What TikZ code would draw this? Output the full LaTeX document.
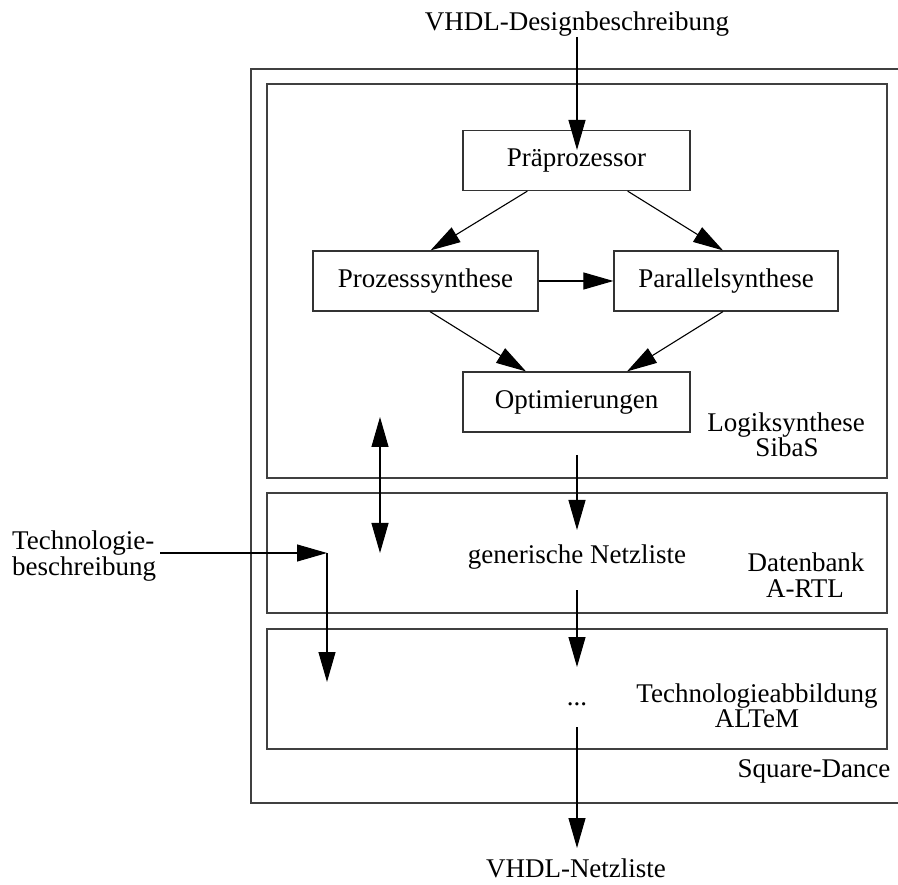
\documentclass[tikz,border=0pt]{standalone}
\usepackage{fontspec}
\setmainfont{Liberation Serif}
\usetikzlibrary{arrows.meta}
\begin{document}
\begin{tikzpicture}[x=1pt,y=-1pt,
  every node/.style={font=\fontsize{27pt}{25pt}\selectfont, inner sep=0pt},
  outline/.style={draw=black!75, line width=1.3pt},
  procbox/.style={draw=black!80, line width=1.2pt, minimum width=226pt, minimum height=60pt},
  flow/.style={draw=black, line width=1.1pt, -{Triangle[length=30pt,width=17pt]}},
  biflow/.style={draw=black, line width=1.1pt, {Triangle[length=30pt,width=17pt]}-{Triangle[length=30pt,width=17pt]}},
  txt/.style={anchor=base}
]
\useasboundingbox (0,0) rectangle (898,885);

% outer Square-Dance frame (open to the right)
\draw[outline] (898,69) -- (251,69) -- (251,803) -- (898,803);
% tool areas
\draw[outline] (267,84) rectangle (887,478);
\draw[outline] (267,493) rectangle (887,613);
\draw[outline] (267,629) rectangle (887,749);

% process boxes of the logic synthesis
\node[procbox, minimum width=227pt] (pre)  at (576.5,160.5) {Präprozessor};
\node[procbox, minimum width=225pt] (proz) at (425.5,281)   {Prozesssynthese};
\node[procbox, minimum width=224pt] (para) at (726,281)     {Parallelsynthese};
\node[procbox, minimum width=227pt] (opt)  at (576.5,402)   {Optimierungen};

% texts
\node[txt] (vin)   at (577,31)  {VHDL-Designbeschreibung};
\node[txt] (vout)  at (576,877) {VHDL-Netzliste};
\node[txt] (gen)   at (577,563) {generische Netzliste};
\node[txt] (dots)  at (577,705) {...};
\node[txt] (logA)  at (786,432) {Logiksynthese};
\node[txt] (logB)  at (787,457) {SibaS};
\node[txt] (dbA)   at (806,572) {Datenbank};
\node[txt] (dbB)   at (805,597) {A-RTL};
\node[txt] (tmA)   at (757,702) {Technologieabbildung};
\node[txt] (tmB)   at (757,727) {ALTeM};
\node[txt] (sq)    at (814,777) {Square-Dance};
\node[txt, anchor=base west] (techA) at (12,549) {Technologie-};
\node[txt, anchor=base west] (techB) at (12,576) {beschreibung};

% free ends of the connectors
\coordinate (inTop)   at (577,37);
\coordinate (inTip)   at (577,150);
\coordinate (lsOut)   at (577,455);
\coordinate (dbIn)    at (577,530);
\coordinate (dbOut)   at (577,590);
\coordinate (tmIn)    at (577,667);
\coordinate (tmOut)   at (577,727);
\coordinate (outTip)  at (577,848);
\coordinate (biTop)   at (380,417);
\coordinate (biBot)   at (380,553);
\coordinate (techSrc) at (160,553);
\coordinate (techCrn) at (327,553);
\coordinate (techTip) at (327,682);

% connectors
\draw[flow] (inTop) -- (inTip);
\draw[flow] ([xshift=65pt]pre.south west) -- ([xshift=5pt]proz.north);
\draw[flow] ([xshift=-63pt]pre.south east) -- ([xshift=-3pt]para.north);
\draw[flow] (proz.east) -- (para.west);
\draw[flow] ([xshift=4.5pt]proz.south) -- ([xshift=-50.5pt]opt.north);
\draw[flow] ([xshift=-3pt]para.south) -- ([xshift=50.5pt]opt.north);
\draw[flow] (lsOut) -- (dbIn);
\draw[flow] (dbOut) -- (tmIn);
\draw[flow] (tmOut) -- (outTip);
\draw[biflow] (biTop) -- (biBot);
\draw[flow] (techSrc) -- (techCrn);
\draw[flow] (techCrn) -- (techTip);
\end{tikzpicture}
\end{document}
